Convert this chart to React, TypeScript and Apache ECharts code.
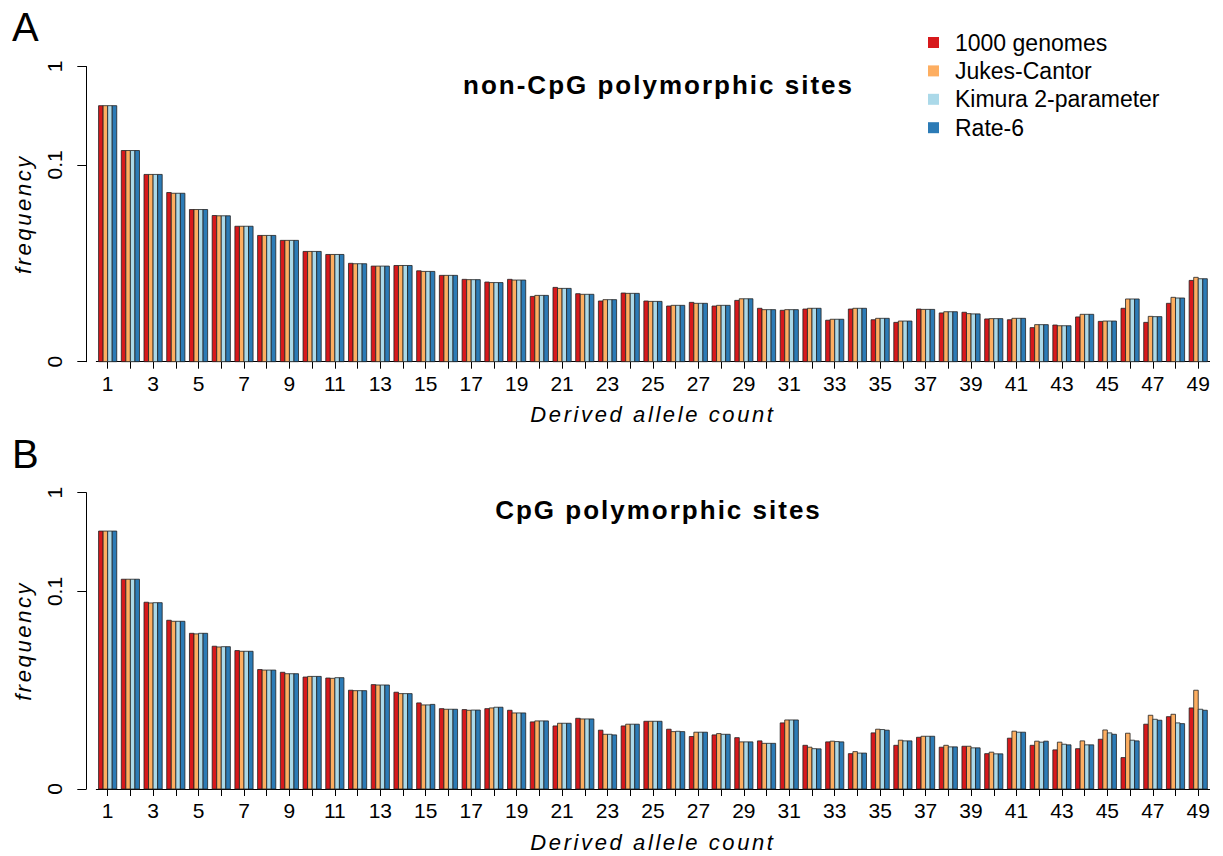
import React, { useEffect, useRef } from 'react';
import * as echarts from 'echarts';

const categories = ['1','2','3','4','5','6','7','8','9','10','11','12','13','14','15','16','17','18','19','20','21','22','23','24','25','26','27','28','29','30','31','32','33','34','35','36','37','38','39','40','41','42','43','44','45','46','47','48','49'];

const seriesNames = ['1000 genomes', 'Jukes-Cantor', 'Kimura 2-parameter', 'Rate-6'];
const seriesColors = ['#D7191C', '#FDAE61', '#ABD9E9', '#2C7BB6'];

// Panel A: non-CpG polymorphic sites
const nonCpg1000G = [0.40,0.14,0.080,0.0524,0.0352,0.0306,0.0238,0.0192,0.0171,0.0132,0.0123,0.0100,0.00937,0.0095,0.00839,0.00754,0.00687,0.00645,0.00687,0.00461,0.00569,0.00491,0.00414,0.00499,0.00414,0.00368,0.00401,0.00368,0.0042,0.00349,0.00333,0.00343,0.00264,0.00343,0.00267,0.00251,0.00343,0.00313,0.00318,0.00272,0.00267,0.00222,0.00236,0.00285,0.00257,0.00349,0.00251,0.00392,0.0067];
const nonCpgJC = [0.40,0.14,0.080,0.0515,0.0352,0.0304,0.0238,0.0192,0.0171,0.0132,0.0123,0.0099,0.00937,0.0095,0.00827,0.00754,0.00682,0.00637,0.00676,0.00472,0.00556,0.00484,0.00427,0.00495,0.0041,0.00374,0.00392,0.00374,0.00436,0.00338,0.00338,0.00349,0.0027,0.00349,0.00276,0.00259,0.0034,0.00322,0.00308,0.00274,0.00276,0.00238,0.00232,0.00303,0.00259,0.00434,0.00289,0.00451,0.0072];
const nonCpgK2P = [0.40,0.14,0.080,0.0515,0.0352,0.0304,0.0238,0.0192,0.0171,0.0132,0.0123,0.0099,0.00937,0.0095,0.00827,0.00754,0.00682,0.00637,0.00676,0.00472,0.00556,0.00484,0.00427,0.00495,0.0041,0.00374,0.00392,0.00374,0.00436,0.00338,0.00338,0.00349,0.0027,0.00349,0.00276,0.00259,0.0034,0.00322,0.00306,0.00274,0.00276,0.00238,0.00232,0.00303,0.00259,0.00434,0.00287,0.00444,0.00697];
const nonCpgRate6 = [0.40,0.14,0.080,0.0515,0.0352,0.0304,0.0238,0.0192,0.0171,0.0132,0.0123,0.0099,0.00937,0.0095,0.00827,0.00754,0.00682,0.00637,0.00676,0.00472,0.00556,0.00484,0.00427,0.00495,0.0041,0.00374,0.00392,0.00374,0.00436,0.00338,0.00338,0.00349,0.0027,0.00349,0.00276,0.00259,0.0034,0.00322,0.00306,0.00274,0.00276,0.00238,0.00232,0.00303,0.00259,0.00434,0.00287,0.00444,0.00697];

// Panel B: CpG polymorphic sites
const cpg1000G = [0.409,0.133,0.0778,0.0511,0.0377,0.0279,0.0252,0.0162,0.0152,0.0136,0.0133,0.0100,0.0114,0.00955,0.00744,0.00651,0.00637,0.00651,0.00627,0.00478,0.00435,0.0052,0.00394,0.00435,0.00485,0.00403,0.0034,0.00353,0.00331,0.00307,0.00467,0.00277,0.003,0.00228,0.0037,0.00277,0.00334,0.00265,0.00271,0.00228,0.00327,0.00277,0.00249,0.00256,0.00319,0.00208,0.00453,0.0054,0.00662];
const cpgJC = [0.409,0.133,0.0765,0.0499,0.0372,0.0274,0.0248,0.0160,0.0147,0.0138,0.0132,0.0099,0.0113,0.00924,0.0071,0.00642,0.00627,0.00662,0.00589,0.00489,0.00463,0.00512,0.00358,0.00453,0.00485,0.00381,0.00376,0.00364,0.0030,0.0029,0.0050,0.00265,0.00305,0.00239,0.00403,0.00312,0.00342,0.00277,0.00271,0.00236,0.00385,0.00305,0.00298,0.00307,0.00396,0.00367,0.00558,0.00571,0.0100];
const cpgK2P = [0.409,0.133,0.0770,0.0499,0.0377,0.0276,0.0248,0.0160,0.0147,0.0138,0.0134,0.0099,0.0113,0.00924,0.0071,0.00642,0.0063,0.00673,0.00589,0.00489,0.00463,0.00512,0.00358,0.00453,0.00485,0.00384,0.00376,0.00358,0.0030,0.0029,0.0050,0.00256,0.00302,0.00231,0.0040,0.00307,0.00342,0.00267,0.00261,0.00227,0.00376,0.00298,0.00284,0.0028,0.0037,0.00312,0.00508,0.00467,0.00642];
const cpgRate6 = [0.409,0.133,0.0770,0.0499,0.0377,0.0276,0.0248,0.0160,0.0147,0.0138,0.0134,0.0099,0.0113,0.00924,0.00719,0.00642,0.0063,0.00673,0.00589,0.00489,0.00463,0.00512,0.00353,0.00453,0.00485,0.00381,0.00376,0.00358,0.0030,0.0029,0.0050,0.00255,0.0030,0.00231,0.00394,0.00307,0.00342,0.00267,0.00261,0.00227,0.00376,0.00305,0.0028,0.0028,0.00358,0.00307,0.00497,0.00459,0.00627];

const yTickValues = [0.001, 0.1, 1];
const yTickLabels = ['0', '0.1', '1'];
const Y_MIN = 0.001;
const Y_MAX = 1;

const FONT = '"Liberation Sans", Arial, Helvetica, sans-serif';

const panelA = [nonCpg1000G, nonCpgJC, nonCpgK2P, nonCpgRate6];
const panelB = [cpg1000G, cpgJC, cpgK2P, cpgRate6];

function makeXAxis(gridIndex: number) {
  return {
    type: 'category',
    gridIndex,
    data: categories,
    boundaryGap: true,
    name: 'Derived allele count',
    nameLocation: 'middle',
    nameGap: 42,
    nameTextStyle: { fontFamily: FONT, fontSize: 22, fontStyle: 'italic', color: '#000' },
    axisLine: { show: true, lineStyle: { color: '#000', width: 1 } },
    axisTick: { show: true, alignWithLabel: true, interval: 0, length: 7, lineStyle: { color: '#000', width: 1 } },
    axisLabel: { show: true, interval: 1, margin: 11, fontFamily: FONT, fontSize: 21, color: '#000' },
    splitLine: { show: false },
  };
}

function makeYAxis(gridIndex: number) {
  return {
    type: 'log',
    gridIndex,
    logBase: 10,
    min: Y_MIN,
    max: Y_MAX,
    offset: 10,
    name: 'frequency',
    nameLocation: 'middle',
    nameGap: 52,
    nameTextStyle: { fontFamily: FONT, fontSize: 22, fontStyle: 'italic', color: '#000' },
    axisLine: { show: true, lineStyle: { color: '#000', width: 1 } },
    axisTick: { show: true, length: 9, customValues: yTickValues, lineStyle: { color: '#000', width: 1 } },
    axisLabel: {
      show: true,
      rotate: 90,
      margin: 21,
      customValues: yTickValues,
      fontFamily: FONT,
      fontSize: 21,
      color: '#000',
      formatter: (v: number) => {
        let best = 0;
        for (let i = 0; i < yTickValues.length; i++) {
          if (Math.abs(Math.log10(v) - Math.log10(yTickValues[i])) < Math.abs(Math.log10(v) - Math.log10(yTickValues[best]))) best = i;
        }
        return yTickLabels[best];
      },
    },
    splitLine: { show: false },
    minorTick: { show: false },
  };
}

function makeRenderItem(seriesIdx: number) {
  return (params: any, api: any) => {
    const cat = api.value(0);
    const val = api.value(1);
    const top = api.coord([cat, val]);
    const base = api.coord([cat, Y_MIN]);
    const next = api.coord([cat + 1, val]);
    const band = Math.abs(next[0] - top[0]);
    const w = band * 0.2;
    const x = top[0] - 2 * w + seriesIdx * w;
    return {
      type: 'rect',
      shape: { x, y: top[1], width: w, height: base[1] - top[1] },
      style: { fill: seriesColors[seriesIdx], stroke: '#222', lineWidth: 0.8 },
    };
  };
}

export default function App() {
  const ref = useRef<HTMLDivElement>(null);
  useEffect(() => {
    if (!ref.current) return;
    const styleEl = document.createElement('style');
    styleEl.textContent =
      '#freqchart text[style*="italic"]{letter-spacing:2.6px;}' +
      '#freqchart text[style*="bold"]{letter-spacing:2px;}';
    document.head.appendChild(styleEl);
    const chart = echarts.init(ref.current, undefined, { renderer: 'svg' });
    const series: any[] = [];
    [panelA, panelB].forEach((panel, p) => {
      panel.forEach((values, i) => {
        series.push({
          type: 'custom',
          name: seriesNames[i],
          xAxisIndex: p,
          yAxisIndex: p,
          data: values.map((v, k) => [k, v]),
          encode: { x: 0, y: 1 },
          renderItem: makeRenderItem(i),
          itemStyle: { color: seriesColors[i] },
          emphasis: { disabled: true },
          silent: true,
        });
      });
    });
    chart.setOption({
      animation: false,
      backgroundColor: '#fff',
      textStyle: { fontFamily: FONT },
      title: [
        { text: 'non-CpG polymorphic sites', left: 653.5, top: 67, textAlign: 'center', textStyle: { fontFamily: FONT, fontSize: 26, fontWeight: 'bold', color: '#000' } },
        { text: 'CpG polymorphic sites', left: 653.5, top: 492, textAlign: 'center', textStyle: { fontFamily: FONT, fontSize: 26, fontWeight: 'bold', color: '#000' } },
      ],
      legend: {
        data: seriesNames,
        orient: 'vertical',
        left: 923,
        top: 26,
        icon: 'rect',
        itemWidth: 11,
        itemHeight: 11,
        itemGap: 5.4,
        selectedMode: false,
        itemStyle: { borderWidth: 0 },
        textStyle: { fontFamily: FONT, fontSize: 23, lineHeight: 23, color: '#000', padding: [0, 0, 0, 11] },
      },
      grid: [
        { left: 96.3, width: 1113.3, top: 66.5, height: 295.2, containLabel: false },
        { left: 96.3, width: 1113.3, top: 492.7, height: 296.3, containLabel: false },
      ],
      xAxis: [makeXAxis(0), makeXAxis(1)],
      yAxis: [makeYAxis(0), makeYAxis(1)],
      graphic: [
        { type: 'text', left: 12, top: 7, style: { text: 'A', fontFamily: FONT, fontSize: 40, fill: '#000' } },
        { type: 'text', left: 12, top: 434, style: { text: 'B', fontFamily: FONT, fontSize: 40, fill: '#000' } },
      ],
      series,
    });
    return () => {
      chart.dispose();
      styleEl.remove();
    };
  }, []);
  return <div id="freqchart" ref={ref} style={{ position: 'absolute', left: 0, top: 0, width: 1223, height: 856 }} />;
}
